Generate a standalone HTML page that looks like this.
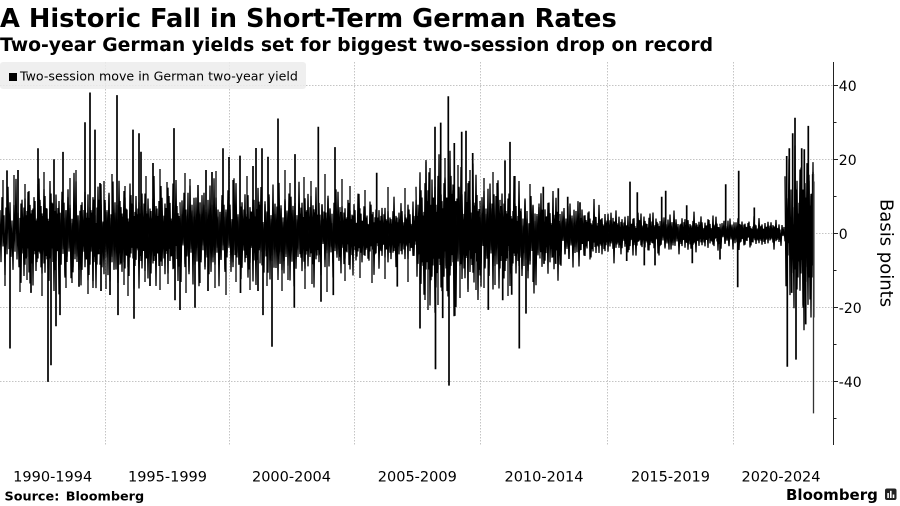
<!DOCTYPE html>
<html><head><meta charset="utf-8">
<style>
html,body{margin:0;padding:0;background:#fff;}
svg{display:block;}
text{font-family:"DejaVu Sans","Liberation Sans",sans-serif;fill:#000;}
</style></head><body>
<svg width="900" height="506" viewBox="0 0 900 506" xmlns="http://www.w3.org/2000/svg">
<defs>
  <path id="pa" fill="none" stroke="#000" stroke-width="1.3" stroke-linejoin="bevel" vector-effect="non-scaling-stroke"
    d="M0,-0.9 L1,1.1 2,-1.4 3,0.5 4,-0.7 5,1.6 6,-1 7,0.8 8,-1.8 9,0.6 10,-1.2 11,0.9 12,-0.5 13,1.4 14,-1.1 15,0.7 16,-2.1 17,1 18,-0.8 19,1.3 20,-0.6 21,1.9 22,-1.3 23,0.4 24,-1 25,1.2 26,-0.7 27,0.9 28,-1.6 29,1.5 30,-1.1 31,0.6 32,-0.9 33,2 34,-1.4 35,0.8 36,-0.5 37,1.1 38,-1.9 39,0.7 40,-1.2"/>
  <path id="pb" fill="none" stroke="#000" stroke-width="1.3" stroke-linejoin="bevel" vector-effect="non-scaling-stroke"
    d="M0,-1.3 L1,1.2 2,-0.8 3,0.5 4,-1.7 5,1.4 6,-1 7,0.9 8,-0.6 9,1.7 10,-2 11,0.8 12,-1.2 13,1 14,-0.7 15,1.3 16,-1.5 17,0.6 18,-1 19,2.2 20,-0.8 21,1.1 22,-1.6 23,0.7 24,-1.2 25,1.5 26,-0.9 27,1 28,-1.4 29,0.5 30,-1 31,1.6 32,-0.6 33,1.2 34,-2.3 35,0.9 36,-1.1 37,0.8 38,-0.7 39,1.3 40,-0.9"/>
  <clipPath id="cp"><rect x="0" y="55" width="814.5" height="395"/></clipPath>
</defs>
<rect width="900" height="506" fill="#fff"/>

<!-- Title -->
<text x="0" y="27" font-size="25.7" font-weight="bold">A Historic Fall in Short-Term German Rates</text>
<text x="0" y="51" font-size="18.8" font-weight="bold">Two-year German yields set for biggest two-session drop on record</text>

<!-- Gridlines -->
<g stroke="#c4c4c4" stroke-width="1" stroke-dasharray="1.5,1.5" fill="none">
  <line x1="0" x2="833" y1="85.5" y2="85.5"/>
  <line x1="0" x2="833" y1="159.5" y2="159.5"/>
  <line x1="0" x2="833" y1="233.5" y2="233.5"/>
  <line x1="0" x2="833" y1="307.5" y2="307.5"/>
  <line x1="0" x2="833" y1="381.5" y2="381.5"/>
  <line x1="105.5" x2="105.5" y1="62" y2="445"/>
  <line x1="229.5" x2="229.5" y1="62" y2="445"/>
  <line x1="354.5" x2="354.5" y1="62" y2="445"/>
  <line x1="480.5" x2="480.5" y1="62" y2="445"/>
  <line x1="607.5" x2="607.5" y1="62" y2="445"/>
  <line x1="733.5" x2="733.5" y1="62" y2="445"/>
</g>

<!-- Legend -->
<rect x="0" y="62" width="306" height="27" rx="3" fill="#ececec" fill-opacity="0.85"/>
<rect x="9" y="73" width="8" height="8" fill="#000"/>
<text x="20" y="80.5" font-size="12.6">Two-session move in German two-year yield</text>

<!-- Series: noise band -->
<g clip-path="url(#cp)">
  <!-- layer 1 -->
  <use href="#pa" transform="translate(0,233.5) scale(1,26)"/>
  <use href="#pb" transform="translate(40,235) scale(1,27)"/>
  <use href="#pa" transform="translate(80,233.5) scale(1,-26)"/>
  <use href="#pb" transform="translate(120,233.5) scale(1,25)"/>
  <use href="#pa" transform="translate(160,233.5) scale(1,25.5)"/>
  <use href="#pb" transform="translate(200,233.5) scale(1,24)"/>
  <use href="#pa" transform="translate(240,233.5) scale(1,-24.5)"/>
  <use href="#pb" transform="translate(280,233.5) scale(1,-23.5)"/>
  <use href="#pa" transform="translate(320,233.5) scale(1,21)"/>
  <use href="#pb" transform="translate(360,233.5) scale(1,16)"/>
  <use href="#pa" transform="translate(400,233.5) scale(1,16)"/>
  <use href="#pb" transform="translate(416,233.5) scale(1,36)"/>
  <use href="#pa" transform="translate(440,233.5) scale(1,-35)"/>
  <use href="#pb" transform="translate(480,233.5) scale(1,25)"/>
  <use href="#pa" transform="translate(520,237) scale(1,-23)"/>
  <use href="#pb" transform="translate(560,233.5) scale(1,15)"/>
  <use href="#pa" transform="translate(600,233.5) scale(1,11)"/>
  <use href="#pb" transform="translate(640,233.5) scale(1,10)"/>
  <use href="#pa" transform="translate(680,233.5) scale(1,-9)"/>
  <use href="#pb" transform="translate(720,233.5) scale(1,7.5)"/>
  <use href="#pa" transform="translate(760,233.5) scale(1,6.5)"/>
  <use href="#pb" transform="translate(785,233.5) scale(1,44)"/>
  <use href="#pa" transform="translate(795,233.5) scale(1,-40)"/>
  <use href="#pb" transform="translate(804,233.5) scale(1,-42)"/>
  <!-- layer 2 -->
  <use href="#pb" transform="translate(20,233.5) scale(1,-25)"/>
  <use href="#pa" transform="translate(60,236) scale(1,26)"/>
  <use href="#pb" transform="translate(100,233.5) scale(1,-24)"/>
  <use href="#pa" transform="translate(140,233.5) scale(1,-25)"/>
  <use href="#pb" transform="translate(180,233.5) scale(1,24)"/>
  <use href="#pa" transform="translate(220,233.5) scale(1,24)"/>
  <use href="#pb" transform="translate(260,233.5) scale(1,-23)"/>
  <use href="#pa" transform="translate(300,233.5) scale(1,22)"/>
  <use href="#pb" transform="translate(340,233.5) scale(1,-18)"/>
  <use href="#pa" transform="translate(380,233.5) scale(1,-16)"/>
  <use href="#pb" transform="translate(420,233.5) scale(1,-36)"/>
  <use href="#pa" transform="translate(460,233.5) scale(1,28)"/>
  <use href="#pb" transform="translate(500,236) scale(1,-25)"/>
  <use href="#pa" transform="translate(540,233.5) scale(1,17)"/>
  <use href="#pb" transform="translate(580,233.5) scale(1,-13)"/>
  <use href="#pa" transform="translate(620,233.5) scale(1,-10.5)"/>
  <use href="#pb" transform="translate(660,233.5) scale(1,9.5)"/>
  <use href="#pa" transform="translate(700,233.5) scale(1,8)"/>
  <use href="#pb" transform="translate(740,233.5) scale(1,-7)"/>
</g>

<!-- Series: medium spikes -->
<path fill="none" stroke="#000" stroke-width="1.3" d="
M3,233.5V180 M14,233.5V175 M25,233.5V184 M44,233.5V172 M70,233.5V178 M76,233.5V170 M104,233.5V181 M112,233.5V174 M125,233.5V186
M146,233.5V176 M160,233.5V169 M167,233.5V182 M185,233.5V173 M190,233.5V179 M198,233.5V185 M216,233.5V171 M233,233.5V180 M247,233.5V176
M285,233.5V170 M290,233.5V183 M304,233.5V177 M311,233.5V181 M325,233.5V174 M342,233.5V179 M350,233.5V186 M365,233.5V190 M388,233.5V187
M405,233.5V188 M426,233.5V160 M430,233.5V168 M445,233.5V158 M458,233.5V165 M470,233.5V170 M484,233.5V178 M493,233.5V172 M497,233.5V183
M515,233.5V176 M530,233.5V184
M5,233.5V286 M20,233.5V292 M27,233.5V280 M42,233.5V296 M66,233.5V288 M72,233.5V283 M88,233.5V294 M93,233.5V281 M106,233.5V289
M124,233.5V285 M128,233.5V296 M145,233.5V282 M160,233.5V290 M168,233.5V284 M186,233.5V293 M200,233.5V283 M215,233.5V288 M226,233.5V295
M236,233.5V282 M250,233.5V290 M267,233.5V286 M282,233.5V291 M288,233.5V280 M305,233.5V289 M312,233.5V284 M327,233.5V292 M345,233.5V281
M360,233.5V278 M372,233.5V283 M385,233.5V279 M408,233.5V282 M425,233.5V300 M428,233.5V310 M438,233.5V305 M460,233.5V298 M468,233.5V292
M476,233.5V290 M484,233.5V288 M495,233.5V285 M508,233.5V296 M533,233.5V282"/>

<!-- Series: large spikes -->
<path fill="none" stroke="#000" stroke-width="1.7" d="
M7,233.5V170.4 M18,233.5V170 M38,233.5V148.2 M54,233.5V159.3 M63,233.5V151.9 M85,233.5V122.2 M90,233.5V92.5 M95,233.5V129.6 M100,233.5V183
M117,233.5V95.1 M133,233.5V129.6 M139,233.5V133.3 M141,233.5V151.7 M153,233.5V163 M174,233.5V128.1 M206,233.5V170 M212,233.5V172
M223,233.5V148.2 M229,233.5V157 M240,233.5V155.6 M253,233.5V166 M256,233.5V148 M262,233.5V148.2 M268,233.5V156.7 M278,233.5V118.5
M295,233.5V154.1 M318.3,233.5V126.7 M335,233.5V147.1 M376.7,233.5V172.7 M435,233.5V126.7 M440.7,233.5V122.6 M448.3,233.5V96.2
M454.3,233.5V143 M461.7,233.5V131.8 M466,233.5V130.7 M472.7,233.5V153 M505,233.5V160.4 M510,233.5V141.9
M543.3,233.5V186.8 M558.3,233.5V188.2 M567.7,233.5V196.8 M580,233.5V202.3 M630,233.5V181.6 M637.3,233.5V192.3 M661.7,233.5V196.8
M665.7,233.5V190.8 M686.7,233.5V205.3 M725.7,233.5V184.2 M738.7,233.5V170.8 M754.3,233.5V207.5
M786.7,233.5V156 M789.3,233.5V148.2 M792.7,233.5V133.3 M795,233.5V117.7 M801.7,233.5V148.2 M804.3,233.5V149.3 M808.3,233.5V125.9 M812.7,233.5V174.1
M10,233.5V348.5 M31,233.5V292.9 M48,233.5V381.9 M51,233.5V365.2 M56,233.5V326.3 M60,233.5V315.1 M79,233.5V286.7 M101,233.5V291 M110,233.5V295
M118,233.5V315.1 M134,233.5V318.8 M150,233.5V286 M175,233.5V300.3 M180,233.5V310 M195,233.5V307.7 M208,233.5V291 M240.5,233.5V293
M258,233.5V291 M263,233.5V315.1 M272,233.5V346.7 M294.3,233.5V307.7 M321,233.5V301.8 M333.3,233.5V295.1 M397.3,233.5V286.6
M420,233.5V328.5 M435.5,233.5V369.3 M442.7,233.5V318.1 M449,233.5V385.6 M454.8,233.5V315.9 M488.3,233.5V309.9 M502.7,233.5V300.3
M511.7,233.5V294.7 M519.3,233.5V348.5 M526,233.5V313.6 M544,233.5V263.9 M555.7,233.5V263.9 M626.7,233.5V261 M644.3,233.5V265.4
M655,233.5V265.4 M692.3,233.5V263.2 M720,233.5V259.5 M737.7,233.5V287.3
M787.3,233.5V366.7 M791.7,233.5V292.9 M796,233.5V359.6 M803.3,233.5V307.7 M805.7,233.5V324.4 M810.7,233.5V289.2"/>
<path fill="none" stroke="#333" stroke-width="1.3" d="M813.5,174V413.4"/>

<!-- Axis -->
<g stroke="#222" stroke-width="1">
  <line x1="833.5" x2="833.5" y1="62" y2="445"/>
  <line x1="833.5" x2="838" y1="85.5" y2="85.5"/>
  <line x1="833.5" x2="838" y1="159.5" y2="159.5"/>
  <line x1="833.5" x2="838" y1="233.5" y2="233.5"/>
  <line x1="833.5" x2="838" y1="307.5" y2="307.5"/>
  <line x1="833.5" x2="838" y1="381.5" y2="381.5"/>
  <line x1="833.5" x2="836.5" y1="122.5" y2="122.5"/>
  <line x1="833.5" x2="836.5" y1="196.5" y2="196.5"/>
  <line x1="833.5" x2="836.5" y1="270.5" y2="270.5"/>
  <line x1="833.5" x2="836.5" y1="344.5" y2="344.5"/>
  <line x1="833.5" x2="836.5" y1="418.5" y2="418.5"/>
</g>
<g font-size="14">
  <text x="838.8" y="91">40</text>
  <text x="838.8" y="165">20</text>
  <text x="838.8" y="238.8">0</text>
  <text x="838.8" y="312.8">-20</text>
  <text x="838.8" y="386.8">-40</text>
</g>
<text transform="translate(880.5,253) rotate(90)" text-anchor="middle" font-size="18">Basis points</text>

<!-- X labels -->
<g font-size="14.5" text-anchor="middle">
  <text x="52.7" y="481.5">1990-1994</text>
  <text x="167.5" y="481.5">1995-1999</text>
  <text x="291.5" y="481.5">2000-2004</text>
  <text x="417.3" y="481.5">2005-2009</text>
  <text x="544" y="481.5">2010-2014</text>
  <text x="670.5" y="481.5">2015-2019</text>
  <text x="781" y="481.5">2020-2024</text>
</g>

<!-- Footer -->
<text x="4.5" y="500.5" font-size="12.8" font-weight="bold" word-spacing="2">Source: Bloomberg</text>
<text x="786" y="500" font-size="15" font-weight="bold">Bloomberg</text>
<rect x="885" y="488.5" width="11.5" height="11.5" rx="2" fill="#222"/>
<g fill="#fff">
  <rect x="887.3" y="493" width="1.6" height="5"/>
  <rect x="890" y="490.8" width="1.6" height="7.2"/>
  <rect x="892.7" y="494.5" width="1.6" height="3.5"/>
</g>
</svg>
</body></html>
